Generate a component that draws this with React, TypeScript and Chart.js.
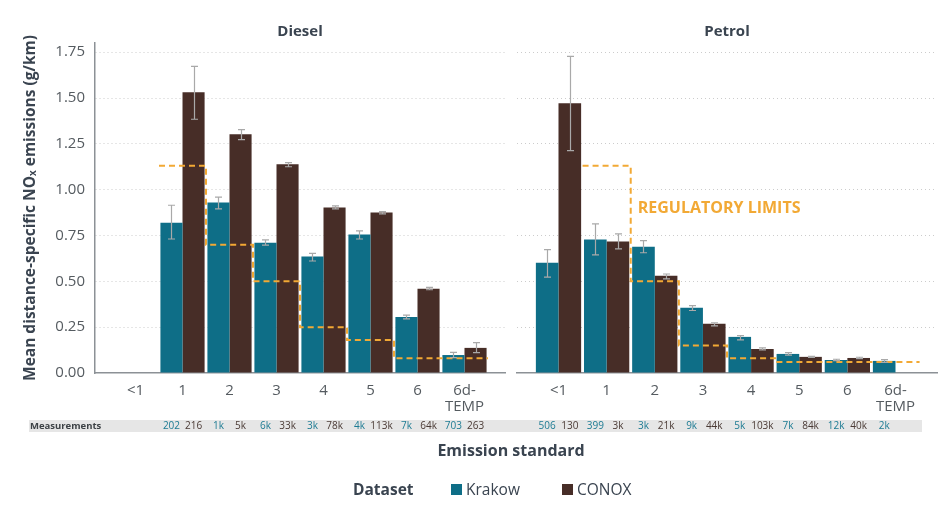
import React, { useEffect, useRef } from 'react';
import { Chart, registerables } from 'chart.js';

Chart.register(...registerables);
Chart.defaults.font.family = "'Open Sans', sans-serif";

// ---------- data ----------
const categories = ['<1', '1', '2', '3', '4', '5', '6', '6d-TEMP'];
const tickLabels: (string | string[])[] = ['<1', '1', '2', '3', '4', '5', '6', ['6d-', 'TEMP']];
const yTicks = [0, 0.25, 0.5, 0.75, 1.0, 1.25, 1.5, 1.75];

const dieselKrakow = [null, 0.82, 0.93, 0.711, 0.635, 0.755, 0.306, 0.098];
const dieselKrakowLow = [null, 0.731, 0.895, 0.698, 0.611, 0.731, 0.295, 0.084];
const dieselKrakowHigh = [null, 0.915, 0.959, 0.726, 0.653, 0.775, 0.316, 0.113];
const dieselConox = [null, 1.532, 1.302, 1.138, 0.903, 0.875, 0.46, 0.137];
const dieselConoxLow = [null, 1.384, 1.273, 1.125, 0.895, 0.868, 0.454, 0.111];
const dieselConoxHigh = [null, 1.672, 1.328, 1.147, 0.912, 0.881, 0.467, 0.166];
const dieselLimits = [null, 1.13, 0.7, 0.5, 0.25, 0.18, 0.08, 0.08];
const dieselKrakowN = ['', '202', '1k', '6k', '3k', '4k', '7k', '703'];
const dieselConoxN = ['', '216', '5k', '33k', '78k', '113k', '64k', '263'];

const petrolKrakow = [0.602, 0.728, 0.689, 0.356, 0.197, 0.104, 0.071, 0.066];
const petrolKrakowLow = [0.523, 0.644, 0.656, 0.341, 0.181, 0.097, 0.067, 0.058];
const petrolKrakowHigh = [0.673, 0.813, 0.722, 0.368, 0.204, 0.111, 0.075, 0.073];
const petrolConox = [1.472, 0.717, 0.531, 0.268, 0.131, 0.088, 0.082, null];
const petrolConoxLow = [1.213, 0.677, 0.513, 0.257, 0.126, 0.085, 0.078, null];
const petrolConoxHigh = [1.727, 0.759, 0.54, 0.274, 0.137, 0.091, 0.086, null];
const petrolLimits = [null, 1.13, 0.5, 0.15, 0.08, 0.06, 0.06, 0.06];
const petrolKrakowN = ['506', '399', '3k', '9k', '5k', '7k', '12k', '2k'];
const petrolConoxN = ['130', '3k', '21k', '44k', '103k', '84k', '40k', ''];

// ---------- styles ----------
const TEAL = '#0e6e87';
const BROWN = '#472d27';
const ORANGE = '#f2a935';
const AXIS = '#8c9196';
const DARK = '#3a4450';
const TICK = '#555b60';
const ERR = '#a9a9a9';

type PanelDef = {
  title: string;
  isLeft: boolean;
  krakow: (number | null)[];
  krakowLow: (number | null)[];
  krakowHigh: (number | null)[];
  conox: (number | null)[];
  conoxLow: (number | null)[];
  conoxHigh: (number | null)[];
  limits: (number | null)[];
  krakowN: string[];
  conoxN: string[];
};

function limitPoints(limits: (number | null)[]) {
  const pts: { x: number; y: number }[] = [];
  let last = 0;
  limits.forEach((v, i) => {
    if (v == null) return;
    pts.push({ x: i - 0.5, y: v });
    last = v;
  });
  pts.push({ x: limits.length - 0.5, y: last });
  return pts;
}

function makePanelPlugin(p: PanelDef) {
  return {
    id: 'panelDecor',
    afterDatasetsDraw(chart: any) {
      const ctx = chart.ctx;
      const ys = chart.scales.y;
      const lows = [p.krakowLow, p.conoxLow];
      const highs = [p.krakowHigh, p.conoxHigh];
      ctx.save();
      ctx.strokeStyle = ERR;
      ctx.lineWidth = 1.2;
      [0, 1].forEach((d) => {
        const meta = chart.getDatasetMeta(d);
        meta.data.forEach((el: any, i: number) => {
          const lo = lows[d][i];
          const hi = highs[d][i];
          if (lo == null || hi == null) return;
          const x = Math.round(el.x) + 0.5;
          const y1 = ys.getPixelForValue(lo);
          const y2 = ys.getPixelForValue(hi);
          ctx.beginPath();
          ctx.moveTo(x, y1);
          ctx.lineTo(x, y2);
          ctx.moveTo(x - 3.5, y1);
          ctx.lineTo(x + 3.5, y1);
          ctx.moveTo(x - 3.5, y2);
          ctx.lineTo(x + 3.5, y2);
          ctx.stroke();
        });
      });
      ctx.restore();
    },
    afterDraw(chart: any) {
      const ctx = chart.ctx;
      const area = chart.chartArea;
      const ys = chart.scales.y;
      ctx.save();
      // panel title
      ctx.fillStyle = DARK;
      ctx.font = "bold 15px 'Open Sans', sans-serif";
      ctx.textAlign = 'center';
      ctx.textBaseline = 'middle';
      ctx.fillText(p.title, (area.left + area.right) / 2, 32);
      // measurements row
      const rowY = 426.5;
      ctx.font = "10px 'Open Sans', sans-serif";
      const counts = [p.krakowN, p.conoxN];
      const colors = ['#1d7b93', '#4a3a35'];
      [0, 1].forEach((d) => {
        const meta = chart.getDatasetMeta(d);
        ctx.fillStyle = colors[d];
        meta.data.forEach((el: any, i: number) => {
          const t = counts[d][i];
          if (!t) return;
          ctx.fillText(t, el.x, rowY);
        });
      });
      if (p.isLeft) {
        ctx.textAlign = 'left';
        ctx.fillStyle = '#3d4246';
        ctx.font = "bold 9.5px 'Open Sans', sans-serif";
        ctx.fillText('Measurements', 30, rowY);
      } else {
        const xs = chart.scales.x;
        ctx.textAlign = 'left';
        ctx.fillStyle = ORANGE;
        ctx.font = "bold 16px 'Open Sans', sans-serif";
        ctx.fillText('REGULATORY LIMITS', xs.getPixelForValue(1.5) + 7, ys.getPixelForValue(0.9));
      }
      ctx.restore();
    },
  };
}

function makeConfig(p: PanelDef): any {
  const padLeft = p.isLeft ? 0 : 7;
  const padRight = p.isLeft ? 5 : 11;
  return {
    type: 'bar',
    data: {
      datasets: [
        {
          label: 'Krakow',
          data: p.krakow.map((y, i) => ({ x: i, y })),
          backgroundColor: TEAL,
          order: 2,
        },
        {
          label: 'CONOX',
          data: p.conox.map((y, i) => ({ x: i, y })),
          backgroundColor: BROWN,
          order: 2,
        },
        {
          type: 'line',
          label: 'Regulatory limits',
          data: limitPoints(p.limits),
          borderColor: ORANGE,
          borderWidth: 2,
          borderDash: [6, 4],
          pointRadius: 0,
          stepped: 'before',
          fill: false,
          order: 1,
        },
      ],
    },
    options: {
      animation: false,
      responsive: false,
      maintainAspectRatio: false,
      layout: { padding: { top: 43, left: padLeft, right: padRight, bottom: 0 } },
      datasets: { bar: { categoryPercentage: 0.94, barPercentage: 1 } },
      plugins: {
        legend: { display: false },
        tooltip: { enabled: false },
        title: { display: false },
      },
      scales: {
        x: {
          type: 'linear',
          min: -0.862,
          max: 7.862,
          offset: false,
          grid: { display: false, drawTicks: false },
          border: { display: true, color: AXIS, width: 1.5 },
          afterBuildTicks: (s: any) => {
            s.ticks = categories.map((_, i) => ({ value: i }));
          },
          ticks: {
            callback: (v: any) => tickLabels[v],
            color: TICK,
            font: { size: 15, lineHeight: 1.05 },
            padding: 10,
            maxRotation: 0,
            autoSkip: false,
          },
          afterFit: (s: any) => {
            s.height = 67;
          },
        },
        y: {
          min: 0,
          max: 1.8,
          afterBuildTicks: (s: any) => {
            s.ticks = yTicks.map((v) => ({ value: v }));
          },
          ticks: {
            display: p.isLeft,
            callback: (v: any) => Number(v).toFixed(2),
            color: TICK,
            font: { size: 15 },
            padding: 10,
          },
          grid: {
            drawTicks: false,
            color: (c: any) => (c.tick && c.tick.value === 0 ? 'rgba(0,0,0,0)' : '#cccccc'),
            lineWidth: 1,
          },
          border: { display: p.isLeft, color: AXIS, width: 1.5, dash: [1, 3] },
          title: {
            display: p.isLeft,
            text: 'Mean distance-specific NOₓ emissions (g/km)',
            color: DARK,
            font: { size: 15.5, weight: 'bold' },
            padding: { top: 21, bottom: 0 },
          },
          afterFit: (s: any) => {
            s.width = p.isLeft ? 95 : 0;
          },
        },
      },
    },
    plugins: [makePanelPlugin(p)],
  };
}

const dieselPanel: PanelDef = {
  title: 'Diesel',
  isLeft: true,
  krakow: dieselKrakow,
  krakowLow: dieselKrakowLow,
  krakowHigh: dieselKrakowHigh,
  conox: dieselConox,
  conoxLow: dieselConoxLow,
  conoxHigh: dieselConoxHigh,
  limits: dieselLimits,
  krakowN: dieselKrakowN,
  conoxN: dieselConoxN,
};

const petrolPanel: PanelDef = {
  title: 'Petrol',
  isLeft: false,
  krakow: petrolKrakow,
  krakowLow: petrolKrakowLow,
  krakowHigh: petrolKrakowHigh,
  conox: petrolConox,
  conoxLow: petrolConoxLow,
  conoxHigh: petrolConoxHigh,
  limits: petrolLimits,
  krakowN: petrolKrakowN,
  conoxN: petrolConoxN,
};

export default function App() {
  const leftRef = useRef<HTMLCanvasElement>(null);
  const rightRef = useRef<HTMLCanvasElement>(null);

  useEffect(() => {
    const c1 = new Chart(leftRef.current as HTMLCanvasElement, makeConfig(dieselPanel));
    const c2 = new Chart(rightRef.current as HTMLCanvasElement, makeConfig(petrolPanel));
    return () => {
      c1.destroy();
      c2.destroy();
    };
  }, []);

  const font = "'Open Sans', sans-serif";
  return (
    <div
      style={{
        position: 'absolute',
        left: 0,
        top: 0,
        width: 948,
        height: 507,
        background: '#ffffff',
        fontFamily: font,
        overflow: 'hidden',
      }}
    >
      <div
        style={{ position: 'absolute', left: 29, top: 420, width: 893, height: 12, background: '#e6e6e6' }}
      />
      <canvas ref={leftRef} width={510} height={440} style={{ position: 'absolute', left: 0, top: 0 }} />
      <canvas ref={rightRef} width={438} height={440} style={{ position: 'absolute', left: 510, top: 0 }} />
      <div
        style={{
          position: 'absolute',
          left: 411,
          top: 441,
          width: 200,
          textAlign: 'center',
          fontSize: 16,
          lineHeight: '19px',
          fontWeight: 'bold',
          color: DARK,
          whiteSpace: 'nowrap',
        }}
      >
        Emission standard
      </div>
      <div
        style={{
          position: 'absolute',
          left: 353,
          top: 479,
          fontSize: 15.5,
          lineHeight: '20px',
          fontWeight: 'bold',
          color: DARK,
        }}
      >
        Dataset
      </div>
      <div style={{ position: 'absolute', left: 451, top: 484, width: 11, height: 11, background: TEAL }} />
      <div style={{ position: 'absolute', left: 466, top: 479, fontSize: 15.5, lineHeight: '20px', color: DARK }}>
        Krakow
      </div>
      <div style={{ position: 'absolute', left: 562, top: 484, width: 11, height: 11, background: BROWN }} />
      <div style={{ position: 'absolute', left: 577, top: 479, fontSize: 15.5, lineHeight: '20px', color: DARK }}>
        CONOX
      </div>
    </div>
  );
}
